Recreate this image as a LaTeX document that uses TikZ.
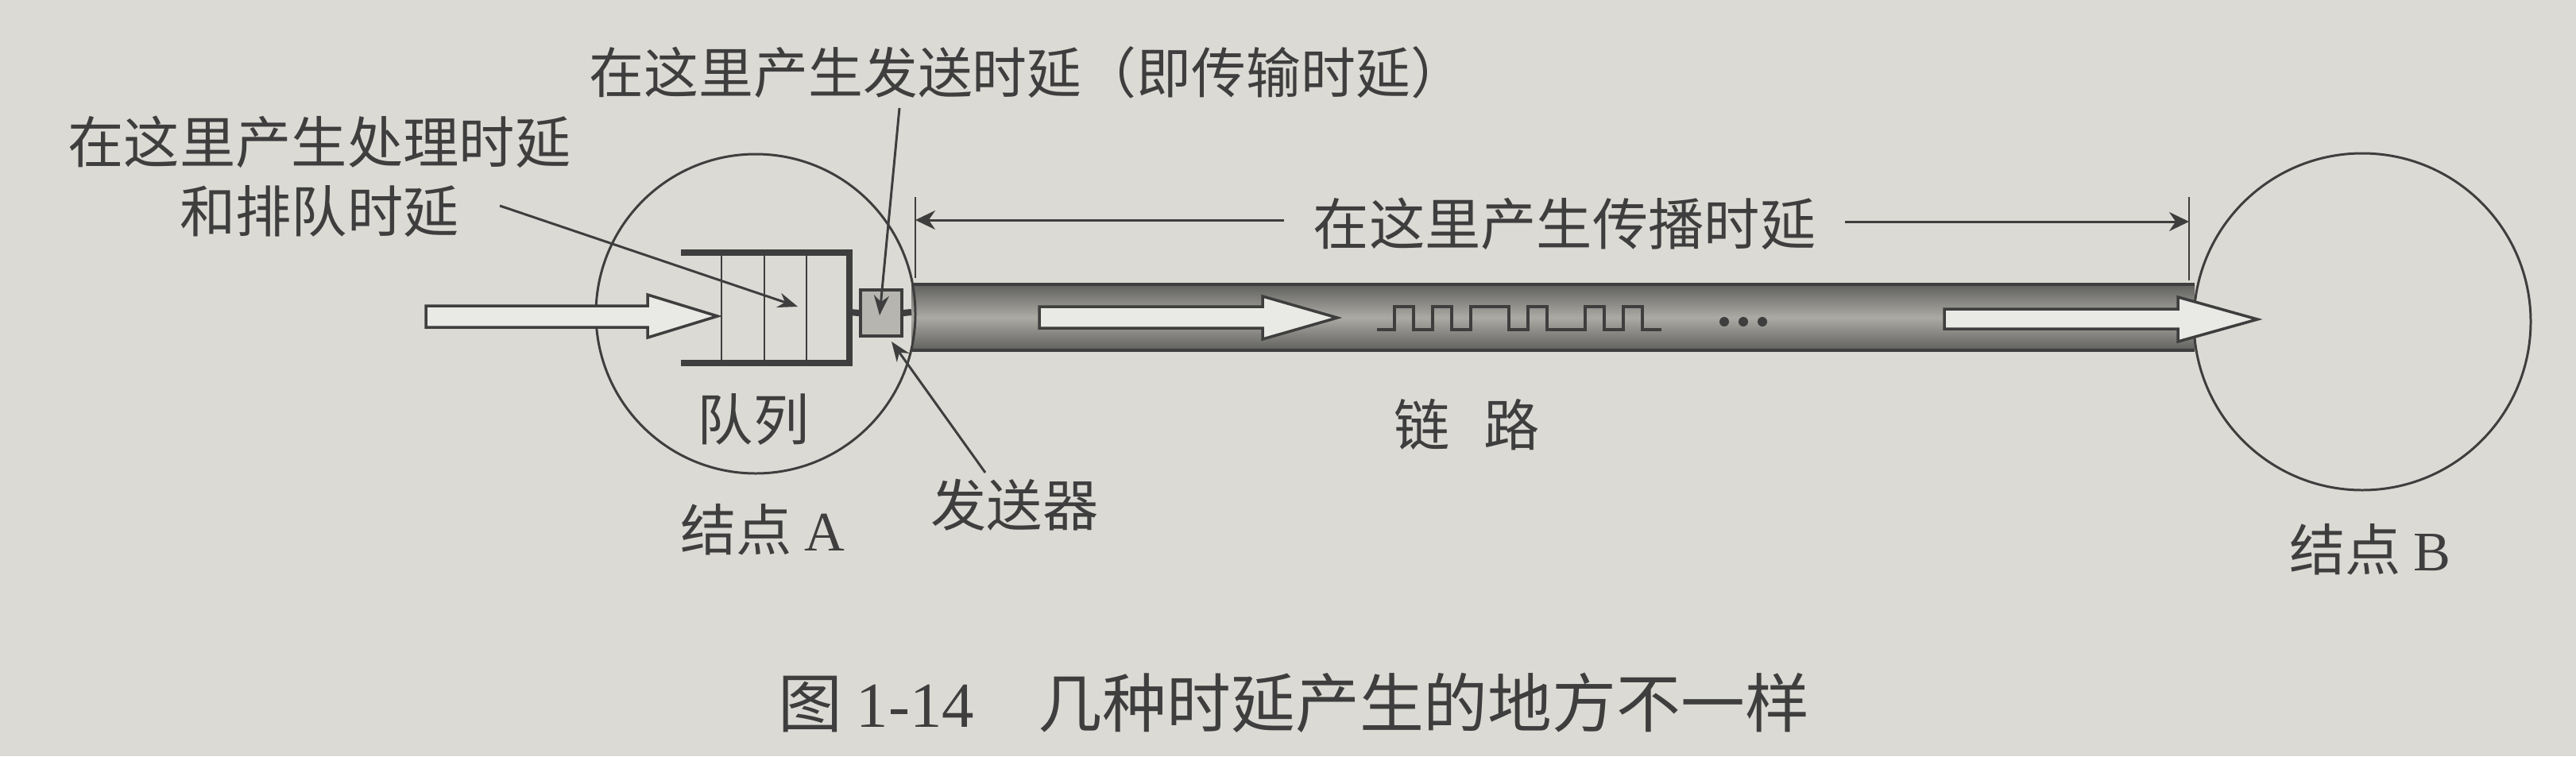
\documentclass[tikz,border=0pt]{standalone}
\usepackage{fontspec}
\setmainfont{Liberation Serif}
\newfontfamily\cjk{Noto Sans CJK SC}
\usepackage{tikz}
\usetikzlibrary{positioning,arrows.meta}
\definecolor{paper}{RGB}{219,218,212}
\definecolor{ink}{RGB}{62,62,62}
\definecolor{tubedark}{RGB}{96,96,94}
\definecolor{tubelight}{RGB}{172,170,164}
\definecolor{txfill}{RGB}{182,181,176}

\begin{document}
\begin{tikzpicture}[
  lbl/.style={font=\cjk\fontsize{20}{24.7}\selectfont, text=ink, inner sep=0pt},
  pointer/.style={-{Stealth[length=2.5mm,width=1.9mm]}, draw=ink, line width=0.85pt},
  dimline/.style={-{Stealth[length=2.5mm,width=2.4mm]}, draw=ink, line width=0.85pt},
  hollow/.style={draw=ink, fill=paper!60!white, line width=1pt, line join=miter},
  bar/.style={draw=ink, line width=2.3pt}
]

\fill[paper] (0,0) rectangle (32.42,-9.52);
\useasboundingbox (0,0) rectangle (32.42,-9.52);

% link
\shade[top color=tubedark, bottom color=tubedark, middle color=tubelight] (11.47,-3.58) rectangle (27.62,-4.41);
\draw[ink, line width=1.2pt] (11.47,-3.58) -- (27.62,-3.58);
\draw[ink, line width=1.2pt] (11.47,-4.41) -- (27.62,-4.41);

% the two nodes
\node[circle, draw=ink, line width=0.85pt, minimum size=4.02cm, inner sep=0pt] (nodeA) at (9.51,-3.95) {};
\node[circle, draw=ink, line width=0.85pt, minimum size=4.24cm, inner sep=0pt] (nodeB) at (29.73,-4.05) {};

% queue
\draw[bar] (8.57,-3.18) -- (10.69,-3.18) -- (10.69,-4.57) -- (8.57,-4.57);
\foreach \x in {9.08,9.62,10.15}
  \draw[ink, line width=0.8pt] (\x,-3.18) -- (\x,-4.57);

% transmitter
\node[draw=ink, fill=txfill, line width=1pt, minimum width=0.52cm, minimum height=0.58cm, inner sep=0pt] (tx) at (11.09,-3.94) {};
\coordinate (qout) at (10.69,-3.93);
\coordinate (linkin) at (11.47,-3.93);
\draw[bar] (qout) -- (tx.west);
\draw[bar] (tx.east) -- (linkin);

% hollow arrows
\draw[hollow] (5.36,-3.85) -- (8.15,-3.85) -- (8.15,-3.71) -- (9.03,-3.98) -- (8.15,-4.25) -- (8.15,-4.12) -- (5.36,-4.12) -- cycle;
\draw[hollow] (13.08,-3.86) -- (15.89,-3.86) -- (15.89,-3.73) -- (16.83,-4.00) -- (15.89,-4.27) -- (15.89,-4.13) -- (13.08,-4.13) -- cycle;
\draw[hollow] (24.47,-3.89) -- (27.41,-3.89) -- (27.41,-3.74) -- (28.41,-4.02) -- (27.41,-4.30) -- (27.41,-4.14) -- (24.47,-4.14) -- cycle;

% bits on the link
\draw[ink, line width=1.2pt] (17.33,-4.15) -- (17.55,-4.15) -- (17.55,-3.86) -- (17.79,-3.86) -- (17.79,-4.15)
  -- (18.03,-4.15) -- (18.03,-3.86) -- (18.27,-3.86) -- (18.27,-4.15) -- (18.51,-4.15) -- (18.51,-3.86)
  -- (18.99,-3.86) -- (18.99,-4.15) -- (19.23,-4.15) -- (19.23,-3.86) -- (19.47,-3.86) -- (19.47,-4.15)
  -- (19.95,-4.15) -- (19.95,-3.86) -- (20.19,-3.86) -- (20.19,-4.15) -- (20.43,-4.15) -- (20.43,-3.86)
  -- (20.67,-3.86) -- (20.67,-4.15) -- (20.91,-4.15);
\foreach \x in {21.70,21.94,22.18}
  \fill[ink] (\x,-4.05) circle (0.06);

% labels
\node[lbl, font=\cjk\fontsize{19.6}{23}\selectfont, anchor=west] (sendlbl) at (7.41,-0.91) {在这里产生发送时延（即传输时延）};
\node[lbl, align=center] (proclbl) at (4.02,-2.22) {在这里产生处理时延\\和排队时延};
\node[lbl] (queuelbl) at (9.48,-5.28) {队列};
\node[lbl] (nodeAlbl) at (9.60,-6.67) {结点 {\rmfamily A}};
\node[lbl] (txlbl) at (12.77,-6.36) {发送器};
\node[lbl] (linklbl) at (18.46,-5.35) {链\hspace{0.6em}路};
\node[lbl, inner xsep=0.36cm] (proplbl) at (19.69,-2.82) {在这里产生传播时延};
\node[lbl] (nodeBlbl) at (29.83,-6.92) {结点 {\rmfamily B}};
\node[lbl, font=\cjk\fontsize{23}{28}\selectfont] (caption) at (16.28,-8.85) {图 {\rmfamily 1-14}\quad 几种时延产生的地方不一样};

% propagation span
\coordinate (tickL) at (11.52,-2.77);
\coordinate (tickR) at (27.55,-2.79);
\draw[ink, line width=0.6pt] (11.52,-2.48) -- (11.52,-3.50);
\draw[ink, line width=0.6pt] (27.55,-2.48) -- (27.55,-3.53);
\draw[dimline] (proplbl.west |- tickL) -- (tickL);
\draw[dimline] (proplbl.east |- tickR) -- (tickR);

% pointers
\coordinate (proctail) at (6.29,-2.59);
\coordinate (qcell) at (10.04,-3.86);
\draw[pointer] (proctail) -- (qcell);
\coordinate (sendtail) at (11.32,-1.36);
\coordinate (txtop) at (11.07,-3.97);
\draw[pointer] (sendtail) -- (txtop);
\coordinate (txtail) at (12.40,-5.95);
\coordinate (txbot) at (11.22,-4.30);
\draw[pointer] (txtail) -- (txbot);
\end{tikzpicture}
\end{document}
